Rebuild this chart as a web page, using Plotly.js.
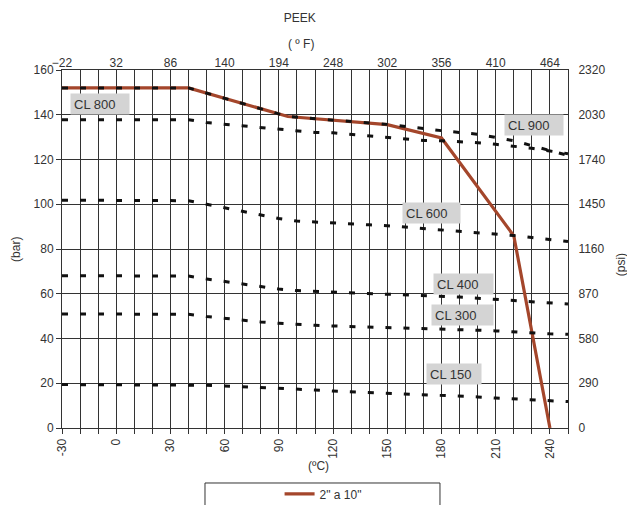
<!DOCTYPE html>
<html><head><meta charset="utf-8">
<script src="https://cdn.plot.ly/plotly-3.0.1.min.js"></script>
<style>html,body{margin:0;padding:0;background:#fff}#chart{width:627px;height:505px}</style>
</head><body><div id="chart"></div>
<script>
// ---- data ----
const gridTemps = [-30,-20,-10,0,10,20,30,40,50,60,70,80,90,100,110,120,130,140,150,160,170,180,190,200,210,220,230,240,250];
const xTickText = ['-30','','','0','','','30','','','60','','','90','','','120','','','150','','','180','','','210','','','240',''];
const fTicks = [-22,32,86,140,194,248,302,356,410,464];
const barTicks = [0,20,40,60,80,100,120,140,160];
const psiTicks = [0,290,580,870,1160,1450,1740,2030,2320];

// pipe rating 2" a 10"
const pipeTemps = [-30,40,95,150,180,220,240];
const pipeBar = [152,152,139.2,135.6,129.6,85.9,0];

// CL 800 (upper class line, follows pipe curve up to ~180)
const cl800Temps = [-30,40,95,150,180,200,220,250];
const cl800Bar = [152,152,139.2,135.7,132.9,131.3,128.4,121.8];

// CL 900
const cl900Bar = [137.8,137.8,137.8,137.8,137.8,137.8,137.8,137.8,136.5,135.8,135.1,134.3,133.5,132.7,132.1,131.9,131.2,130.4,129.7,128.9,128.5,128.4,128.0,127.5,126.8,126.0,125.0,123.8,122.6];
// CL 600
const cl600Bar = [101.8,101.8,101.8,101.8,101.8,101.8,101.8,101.6,100.0,98.4,96.6,95.2,93.6,92.5,92.0,91.6,91.2,90.8,90.4,89.8,89.2,88.6,88.0,87.4,86.9,86.0,85.1,84.1,83.3];
// CL 400
const cl400Bar = [68.1,68.1,68.1,68.1,68.1,68.1,68.1,67.9,66.6,65.4,64.4,63.3,62.1,61.4,61.1,60.8,60.5,60.2,59.9,59.6,59.3,58.9,58.5,58.0,57.5,57.1,56.6,56.0,55.4];
// CL 300
const cl300Bar = [51.0,51.0,51.0,51.0,51.0,51.0,51.0,50.8,49.8,48.9,48.1,47.4,46.8,46.2,45.9,45.6,45.4,45.1,44.8,44.5,44.4,44.1,43.9,43.7,43.4,42.9,42.6,42.1,41.9];
// CL 150
const cl150Bar = [19.4,19.4,19.4,19.4,19.4,19.4,19.4,19.4,19.1,18.8,18.5,18.2,17.7,17.3,17.0,16.5,16.2,15.8,15.3,15.2,14.9,14.6,14.2,13.9,13.4,13.0,12.5,12.2,11.8];

const classLabels = ['CL 800','CL 900','CL 600','CL 400','CL 300','CL 150'];
const labelTemps = [-8.9,231.1,174.2,191.9,191.4,186.7];
const labelBar = [144.6,135.6,96.1,64.4,50.3,24.1];
const labelWidths = [52,52,51,53,55,48];

// ---- styles ----
const BROWN = '#A4462B';
const INK = '#333333';
const dashLine = {color:'#111', width:3, dash:'6px,12px'};

function classTrace(name, xs, ys){
  return {x:xs, y:ys, name:name, type:'scatter', mode:'lines', line:dashLine, showlegend:false, hoverinfo:'x+y+name'};
}

const traces = [
  {x:pipeTemps, y:pipeBar, name:'2" a 10"', type:'scatter', mode:'lines', line:{color:BROWN, width:3.2}},
  classTrace('CL 800', cl800Temps, cl800Bar),
  classTrace('CL 900', gridTemps, cl900Bar),
  classTrace('CL 600', gridTemps, cl600Bar),
  classTrace('CL 400', gridTemps, cl400Bar),
  classTrace('CL 300', gridTemps, cl300Bar),
  classTrace('CL 150', gridTemps, cl150Bar),
  // carriers for the secondary axes (invisible)
  {x:[fTicks[0], fTicks[fTicks.length-1]], y:[0,0], xaxis:'x2', yaxis:'y', mode:'markers', marker:{opacity:0}, showlegend:false, hoverinfo:'skip'},
  {x:[gridTemps[0], gridTemps[gridTemps.length-1]], y:[psiTicks[0], psiTicks[psiTicks.length-1]], xaxis:'x', yaxis:'y2', mode:'markers', marker:{opacity:0}, showlegend:false, hoverinfo:'skip'}
];

const annotations = classLabels.map((t,i)=>({
  text:t, x:labelTemps[i], y:labelBar[i], xref:'x', yref:'y', showarrow:false,
  xanchor:'center', yanchor:'middle', bgcolor:'#d4d4d4', width:labelWidths[i], height:14,
  align:'left', borderpad:3, font:{size:13, color:INK}
}));
annotations.push(
  {text:'( º F)', xref:'paper', yref:'paper', x:0.472, y:1.0726, showarrow:false, xanchor:'center', yanchor:'middle', font:{size:12, color:INK}},
  {text:'(ºC)', xref:'paper', yref:'paper', x:0.507, y:-0.106, showarrow:false, xanchor:'center', yanchor:'middle', font:{size:12, color:INK}},
  {text:'(bar)', xref:'paper', yref:'paper', x:-0.091, y:0.5, textangle:-90, showarrow:false, xanchor:'center', yanchor:'middle', font:{size:12, color:INK}},
  {text:'(psi)', xref:'paper', yref:'paper', x:1.105, y:0.455, textangle:-90, showarrow:false, xanchor:'center', yanchor:'middle', font:{size:12, color:INK}}
);

const layout = {
  width:627, height:505,
  margin:{l:62, r:59, t:70, b:77, autoexpand:false},
  paper_bgcolor:'#fff', plot_bgcolor:'#fff',
  font:{family:'"Liberation Sans", Arial, sans-serif', size:12, color:INK},
  title:{text:'PEEK', xref:'paper', x:0.47, xanchor:'center', yref:'container', y:1-18/505, yanchor:'middle', font:{size:12, color:INK}},
  showlegend:true,
  legend:{x:0.43, xanchor:'left', y:-0.184, yanchor:'middle', bgcolor:'rgba(0,0,0,0)', borderwidth:0, font:{size:12, color:INK}},
  xaxis:{range:[-30,250], tickmode:'array', tickvals:gridTemps, ticktext:xTickText, tickangle:-90,
         ticks:'outside', ticklen:5, tickcolor:INK, showgrid:true, gridcolor:INK, gridwidth:1,
         zeroline:false, showline:true, mirror:true, linecolor:INK, linewidth:1, fixedrange:true},
  xaxis2:{overlaying:'x', side:'top', range:[-22,482], tickmode:'array', tickvals:fTicks,
          ticks:'', showgrid:false, zeroline:false, showline:false},
  yaxis:{range:[0,160], tickmode:'array', tickvals:barTicks, ticks:'outside', ticklen:5, tickcolor:INK,
         showgrid:true, gridcolor:INK, gridwidth:1, zeroline:false, showline:true, mirror:true, linecolor:INK, linewidth:1},
  yaxis2:{overlaying:'y', side:'right', range:[0,2320], tickmode:'array', tickvals:psiTicks,
          ticks:'outside', ticklen:7, tickcolor:'rgba(0,0,0,0)', showgrid:false, zeroline:false, showline:false},
  shapes:[{type:'rect', xref:'paper', yref:'paper', x0:0.2826, x1:0.747, y0:-0.1536, y1:-0.27, line:{color:INK, width:1}, fillcolor:'rgba(0,0,0,0)'}],
  annotations:annotations
};

Plotly.newPlot('chart', traces, layout, {displayModeBar:false, staticPlot:true});
</script>
</body></html>
